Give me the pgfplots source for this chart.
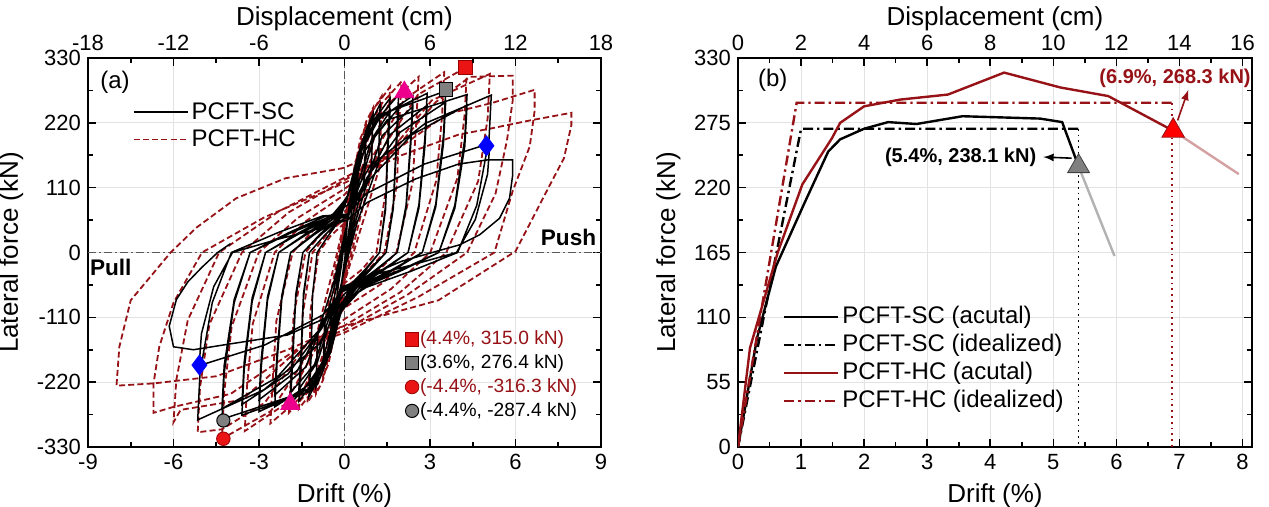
\documentclass[border=0pt]{standalone}
\usepackage{fontspec}
\setmainfont{Liberation Sans}
\usepackage{pgfplots}
\pgfplotsset{compat=1.18}

\definecolor{hcred}{RGB}{150,18,22}
\definecolor{mkred}{RGB}{235,20,20}
\definecolor{mkgray}{RGB}{128,128,128}

\pgfplotsset{
  panel/.style={
    scale only axis, height=194.5pt,
    tick align=inside,
    /pgf/number format/assume math mode=true,
    ticklabel style={font=\fontsize{11}{12}\selectfont},
    label style={font=\fontsize{13}{15}\selectfont},
    axis line style={line width=1pt},
    every tick/.style={black, line width=0.8pt},
    major tick length=4pt, minor tick length=2.5pt,
  },
  linelegend/.style={
    legend image code/.code={\draw[##1] (0pt,0pt) -- (27pt,0pt);},
    legend cell align=left,
    legend style={draw=none, fill=none, font=\fontsize{12}{14}\selectfont,
      row sep=0.8pt, nodes={inner sep=1.5pt}},
  },
  topaxis/.style={axis x line*=top, axis y line=none, xlabel style={yshift=-4.5pt}},
  sc/.style={black, line width=0.75pt},
  hc/.style={hcred, line width=0.9pt, dash pattern=on 3pt off 1.6pt},
}

\begin{document}
\begin{tikzpicture}
\useasboundingbox (-44pt,-30pt) rectangle (590.5pt,223.5pt);

% ---------------- (a) hysteresis ----------------
\begin{axis}[panel, width=256.5pt, at={(0,0)}, anchor=south west,
    xmin=-9, xmax=9, ymin=-330, ymax=330,
    xtick={-9,-6,...,9}, ytick={-330,-220,...,330},
    minor x tick num=1, minor y tick num=1,
    xtick pos=bottom, ytick pos=both,
    grid=major, major grid style={gray!22, line width=0.4pt},
    xlabel={Drift (\%)}, ylabel={Lateral force (kN)},
    linelegend,
    legend style={at={(0.075,0.905)}, anchor=north west},
]
\addlegendimage{sc}
\addlegendentry{PCFT-SC}
\addlegendimage{hc}
\addlegendentry{PCFT-HC}

\draw[gray!70!black, line width=0.5pt, dash pattern=on 4pt off 1.5pt on 1pt off 1.5pt]
  (axis cs:-9,0) -- (axis cs:9,0) (axis cs:0,-330) -- (axis cs:0,330);

% PCFT-HC
\addplot[hc, forget plot] coordinates {
(0,0) (0.12,69) (0.225,104) (0.3,115)
(0.24,63) (0.12,14) (0,-22) (-0.12,-66) (-0.225,-99) (-0.3,-110)
(-0.24,-61) (-0.12,-13) (0,34) (0.2,102) (0.375,153) (0.5,170)
(0.44,94) (0.2,20) (0,-33) (-0.2,-99) (-0.375,-149) (-0.5,-165)
(-0.44,-91) (-0.2,-20) (0,43) (0.3,129) (0.56,194) (0.75,215)
(0.69,118) (0.3,26) (0,-42) (-0.3,-126) (-0.56,-189) (-0.75,-210)
(-0.69,-116) (-0.3,-25) (0,49) (0.4,147) (0.75,221) (1.0,245)
(0.94,135) (0.4,29) (0,-48) (-0.4,-144) (-0.75,-216) (-1.0,-240)
(-0.94,-132) (-0.4,-29) (0,53) (0.52,159) (0.975,239) (1.3,265)
(1.24,146) (0.52,32) (0,-51) (-0.52,-153) (-0.975,-230) (-1.3,-255)
(-1.22,-191) (-1.2,-102) (-0.91,0) (-0.49,28) (0,50) (0.4,141) (0.96,239) (1.6,281)
(1.52,211) (1.47,112) (1.12,0) (0.61,-29) (0,-52) (-0.4,-133) (-0.96,-225) (-1.6,-265)
(-1.52,-199) (-1.47,-106) (-1.12,0) (-0.61,31) (0,57) (0.5,145) (1.2,247) (2.0,290)
(1.92,218) (1.84,116) (1.4,0) (0.76,-33) (0,-60) (-0.49,-136) (-1.17,-231) (-1.95,-272)
(-1.87,-204) (-1.79,-109) (-1.37,0) (-0.74,36) (0,65) (0.65,149) (1.56,253) (2.6,298)
(2.52,224) (2.39,119) (1.82,0) (0.99,-41) (0,-74) (-0.65,-145) (-1.56,-247) (-2.6,-290)
(-2.52,-218) (-2.39,-116) (-1.82,0) (-0.99,43) (0,78) (0.88,153) (2.1,260) (3.5,306)
(3.42,230) (3.22,122) (2.45,0) (1.33,-52) (0,-94) (-0.88,-152) (-2.1,-258) (-3.5,-303)
(-3.42,-227) (-3.22,-121) (-2.45,0) (-1.33,54) (0,98) (1.08,158) (2.58,268) (4.3,315)
(4.22,236) (3.96,126) (3.01,0) (1.63,-62) (0,-113) (-1.08,-158) (-2.58,-269) (-4.3,-316)
(-4.22,-237) (-3.96,-126) (-3.01,0) (-1.63,59) (0,108) (1.28,152) (3.06,258) (5.1,303)
(5.02,227) (4.69,121) (3.57,0) (1.94,-68) (0,-124) (-1.29,-153) (-2.8,-255) (-4.3,-300) (-5.15,-305)
(-5.07,-229) (-4.74,-122) (-3.6,0) (-1.96,68) (0,123) (1.5,160) (3.2,255) (4.4,298) (5.9,300) (5.9,257)
(5.7,190) (5.3,100) (4.3,0) (2.2,-72) (0,-131) (-1.5,-160) (-3.6,-250) (-5.75,-267) (-6.0,-288)
(-5.9,-216) (-5.5,-115) (-4.4,0) (-2.3,70) (0,127) (1.7,170) (3.6,235) (5.2,254) (6.67,276) (6.67,240)
(6.5,180) (5.9,104) (5.26,0) (2.6,-75) (0,-136) (-1.7,-165) (-4.0,-240) (-6.0,-262) (-6.7,-272) (-6.7,-222)
(-6.5,-160) (-6.0,-85) (-5.0,0) (-2.8,60) (0,118) (2.0,165) (4.0,200) (5.2,211) (6.5,224) (7.96,237) (7.96,216)
(7.7,160) (7.2,114) (6.0,2) (3.3,-81) (-0.17,-127) (-2.0,-165) (-4.5,-210) (-6.67,-222) (-8.0,-226)
(-7.9,-160) (-7.5,-81) (-6.1,0) (-5.2,42) (-3.8,92) (-2.07,126) (-0.07,143) (0.8,160)
};

% PCFT-SC
\addplot[sc, forget plot] coordinates {
(0,0) (0.12,60) (0.225,97) (0.3,110)
(0.24,66) (0.105,22) (0,-13) (-0.12,-58) (-0.225,-92) (-0.3,-105)
(-0.24,-63) (-0.105,-21) (0,20) (0.2,91) (0.375,145) (0.5,165)
(0.44,99) (0.175,33) (0,-19) (-0.2,-88) (-0.375,-141) (-0.5,-160)
(-0.44,-96) (-0.175,-32) (0,25) (0.3,113) (0.5625,180) (0.75,205)
(0.69,123) (0.26,41) (0,-24) (-0.3,-110) (-0.56,-176) (-0.75,-200)
(-0.69,-120) (-0.26,-40) (0,28) (0.4,129) (0.75,207) (1.0,235)
(0.94,141) (0.35,47) (0,-27) (-0.4,-125) (-0.75,-201) (-1.0,-228)
(-0.94,-137) (-0.35,-46) (0,30) (0.5,139) (0.94,222) (1.25,252)
(1.19,151) (0.44,50) (0,-29) (-0.5,-135) (-0.94,-216) (-1.25,-245)
(-1.17,-176) (-1.125,-74) (-0.96,0) (-0.56,29) (-0.19,54) (0.1,92) (0.45,157) (0.88,215) (1.6,262)
(1.52,189) (1.44,79) (1.23,0) (0.72,-31) (0.24,-58) (-0.1,-88) (-0.45,-151) (-0.88,-207) (-1.6,-252)
(-1.52,-181) (-1.44,-76) (-1.23,0) (-0.72,28) (-0.24,51) (0.1,60) (0.5,120) (0.95,192) (1.6,240)
(1.52,173) (1.44,72) (1.23,0) (0.72,-29) (0.24,-53) (-0.1,-58) (-0.5,-116) (-0.95,-186) (-1.6,-232)
(-1.52,-167) (-1.44,-70) (-1.23,0) (-0.72,28) (-0.24,51) (0.1,94) (0.45,161) (1.05,220) (1.9,268)
(1.82,193) (1.71,80) (1.46,0) (0.86,-32) (0.29,-59) (-0.1,-90) (-0.45,-154) (-1.05,-211) (-1.9,-257)
(-1.82,-185) (-1.71,-77) (-1.46,0) (-0.86,31) (-0.29,57) (0.1,61) (0.6,123) (1.05,196) (1.9,245)
(1.82,176) (1.71,74) (1.46,0) (0.86,-29) (0.29,-54) (-0.1,-60) (-0.6,-119) (-1.05,-190) (-1.9,-238)
(-1.82,-171) (-1.71,-71) (-1.46,0) (-0.86,29) (-0.29,52) (0.1,93) (0.5,165) (1.2,226) (2.4,266)
(2.32,192) (2.16,80) (1.85,0) (1.08,-32) (0.36,-59) (-0.1,-92) (-0.5,-162) (-1.2,-223) (-2.45,-262)
(-2.37,-189) (-2.2,-79) (-1.89,0) (-1.1,31) (-0.37,58) (0.1,62) (0.8,124) (1.32,198) (2.4,248)
(2.32,179) (2.16,74) (1.85,0) (1.08,-30) (0.36,-55) (-0.1,-61) (-0.8,-121) (-1.35,-194) (-2.45,-242)
(-2.37,-174) (-2.2,-73) (-1.89,0) (-1.1,29) (-0.37,53) (0.1,95) (0.5,167) (1.2,230) (2.9,270)
(2.82,194) (2.61,81) (2.23,0) (1.31,-32) (0.44,-59) (-0.1,-95) (-0.5,-167) (-1.2,-230) (-3.0,-270)
(-2.92,-194) (-2.7,-81) (-2.31,0) (-1.35,32) (-0.45,59) (0.1,63) (0.8,125) (1.6,200) (2.9,250)
(2.82,180) (2.61,75) (2.23,0) (1.31,-30) (0.44,-55) (-0.1,-63) (-0.8,-125) (-1.65,-200) (-3.0,-250)
(-2.92,-180) (-2.7,-75) (-2.31,0) (-1.35,30) (-0.45,55) (0.1,96) (0.5,170) (1.2,233) (3.55,274)
(3.47,197) (3.2,82) (2.73,0) (1.6,-33) (0.53,-60) (-0.1,-97) (-0.5,-171) (-1.2,-235) (-3.6,-276)
(-3.52,-199) (-3.24,-83) (-2.77,0) (-1.62,33) (-0.54,61) (0.1,64) (0.8,128) (1.95,204) (3.55,255)
(3.47,184) (3.2,77) (2.73,0) (1.6,-31) (0.53,-56) (-0.1,-65) (-0.8,-129) (-1.98,-206) (-3.6,-258)
(-3.52,-186) (-3.24,-77) (-2.77,0) (-1.62,31) (-0.54,57) (0.1,94) (0.6,165) (1.5,225) (4.3,268)
(4.22,193) (3.87,80) (3.31,0) (1.94,-32) (0.65,-59) (-0.1,-99) (-0.6,-175) (-1.5,-238) (-4.3,-283)
(-4.22,-204) (-3.87,-85) (-3.31,0) (-1.94,34) (-0.65,62) (0.1,62) (0.9,125) (2.37,200) (4.3,250)
(4.22,180) (3.87,75) (3.31,0) (1.94,-30) (0.65,-55) (-0.1,-66) (-0.9,-132) (-2.37,-212) (-4.3,-265)
(-4.22,-191) (-3.87,-80) (-3.31,0) (-1.94,32) (-0.65,58) (0.1,80) (0.9,147) (2.83,219) (5.15,267)
(5.07,192) (4.64,80) (3.97,0) (2.32,-32) (0.77,-59) (-0.1,-85) (-0.9,-156) (-2.83,-233) (-5.15,-284)
(-5.07,-204) (-4.64,-85) (-3.97,0) (-2.32,34) (-0.77,62) (0.1,65) (0.77,100) (2.8,150) (5.1,185)
(5.02,133) (4.59,56) (3.93,0) (2.3,-22) (0.77,-41) (-0.1,-67) (-0.76,-106) (-2.8,-157) (-5.1,-192)
(-5.02,-138) (-4.59,-58) (-3.93,0) (-2.3,23) (-0.77,42) (0.1,55) (0.8,85) (2.5,125) (4.0,150) (5.0,157) (5.9,157)
(5.9,131) (5.79,92) (5.44,58) (4.74,30) (4.04,13) (3.3,3) (2.0,-15) (0.8,-40) (0,-70) (-0.6,-110)
(-2.0,-140) (-4.0,-155) (-5.3,-165) (-6.0,-160) (-6.15,-125) (-5.9,-80) (-5.5,-50) (-5.0,-25) (-4.45,0) (-4.0,15)
};

\addplot[only marks, forget plot, mark=triangle*, mark size=5.5pt, mark options={fill=magenta, draw=magenta}]
  coordinates {(2.1,272) (-1.9,-257)};
\addplot[only marks, forget plot, mark=diamond*, mark size=5pt, mark options={fill=blue, draw=blue}]
  coordinates {(4.98,181) (-5.09,-191)};

\node[font=\fontsize{12}{14}\selectfont] at (axis cs:-8.05,288) {(a)};
\node[font=\bfseries\fontsize{11.3}{13}\selectfont] at (axis cs:7.86,26) {Push};
\node[font=\bfseries\fontsize{11.3}{13}\selectfont] at (axis cs:-8.2,-25) {Pull};
\end{axis}

% marker legend of (a)
\begin{axis}[panel, width=256.5pt, at={(0,0)}, anchor=south west,
    xmin=-9, xmax=9, ymin=-330, ymax=330, hide axis,
    legend cell align=left,
    legend image code/.code={\draw[mark repeat=2,mark phase=2,#1] plot coordinates {(0pt,0pt) (1pt,0pt) (2pt,0pt)};},
    legend style={draw=none, fill=none, font=\fontsize{9.6}{11}\selectfont,
      at={(0.606,0.318)}, anchor=north west, row sep=0.5pt,
      nodes={inner xsep=0.6pt, inner ysep=1.5pt}},
]
\addplot[only marks, mark=square*, mark size=3.4pt, mark options={fill=mkred, draw=red!60!black, line width=0.4pt}]
  coordinates {(4.25,314)};
\addlegendentry{\textcolor{hcred}{(4.4\%, 315.0 kN)}}
\addplot[only marks, mark=square*, mark size=3.3pt, mark options={fill=mkgray, draw=black, line width=0.5pt}]
  coordinates {(3.55,276.4)};
\addlegendentry{(3.6\%, 276.4 kN)}
\addplot[only marks, mark=*, mark size=3.4pt, mark options={fill=mkred, draw=red!60!black, line width=0.4pt}]
  coordinates {(-4.25,-316)};
\addlegendentry{\textcolor{hcred}{(-4.4\%, -316.3 kN)}}
\addplot[only marks, mark=*, mark size=3.3pt, mark options={fill=mkgray, draw=black, line width=0.5pt}]
  coordinates {(-4.25,-285)};
\addlegendentry{(-4.4\%, -287.4 kN)}
\end{axis}

% top axis of (a)
\begin{axis}[panel, topaxis, width=256.5pt, at={(0,0)}, anchor=south west,
    xmin=-18, xmax=18, ymin=-330, ymax=330,
    xtick={-18,-12,...,18}, minor x tick num=1,
    xlabel={Displacement (cm)},
]
\end{axis}

% ---------------- (b) envelopes ----------------
\begin{axis}[panel, width=257pt, at={(325pt,0)}, anchor=south west,
    xmin=0, xmax=8.15, ymin=0, ymax=330,
    xtick={0,1,...,8}, ytick={0,55,...,330},
    minor x tick num=1, minor y tick num=1,
    xtick pos=bottom, ytick pos=both,
    grid=major, major grid style={gray!22, line width=0.4pt},
    xlabel={Drift (\%)}, ylabel={Lateral force (kN)},
    linelegend,
    legend style={at={(0.075,0.38)}, anchor=north west},
]
\addplot[gray!60, line width=1.2pt, forget plot] coordinates {(5.4,238.1) (5.97,162)};
\addplot[hcred!40, line width=1.2pt, forget plot] coordinates {(6.9,268.3) (7.94,231.5)};
\addplot[black, line width=0.9pt, dotted, forget plot] coordinates {(5.4,270) (5.4,0)};
\addplot[hcred, line width=0.9pt, dotted, forget plot] coordinates {(6.88,292) (6.88,0)};

\addplot[black, line width=1.2pt] coordinates {
(0,0) (0.1,30) (0.3,92) (0.6,153) (1.05,206.5) (1.43,250.6) (1.62,261) (2.0,270)
(2.38,275.6) (2.83,274) (3.56,280.6) (4.79,278.6) (5.14,275.6) (5.4,238.1)};
\addlegendentry{PCFT-SC (acutal)}
\addplot[black, line width=1.2pt, dash pattern=on 5pt off 2pt on 1.2pt off 2pt] coordinates {
(0,0) (1.0,270) (5.4,270)};
\addlegendentry{PCFT-SC (idealized)}
\addplot[hcred, line width=1.2pt] coordinates {
(0,0) (0.19,84) (0.63,165) (1.02,222.7) (1.49,262) (1.62,275) (2.0,289) (2.57,294.7)
(3.33,299) (4.22,317.6) (5.11,305) (5.87,297.7) (6.9,268.3)};
\addlegendentry{PCFT-HC (acutal)}
\addplot[hcred, line width=1.2pt, dash pattern=on 5pt off 2pt on 1.2pt off 2pt] coordinates {
(0,0) (0.93,292) (6.9,292)};
\addlegendentry{PCFT-HC (idealized)}

\addplot[only marks, forget plot, mark=triangle*, mark size=6.3pt, mark options={fill=mkgray, draw=gray!50!black, line width=0.4pt}]
  coordinates {(5.4,238.1)};
\addplot[only marks, forget plot, mark=triangle*, mark size=6.5pt, mark options={fill=red, draw=hcred, line width=0.4pt}]
  coordinates {(6.9,268.3)};

\node[font=\bfseries\fontsize{10}{12}\selectfont] at (axis cs:3.53,246) {(5.4\%, 238.1 kN)};
\draw[-latex, line width=0.8pt] (axis cs:5.29,245) -- (axis cs:4.84,246);
\node[font=\bfseries\fontsize{10}{12}\selectfont, text=hcred] at (axis cs:6.93,313) {(6.9\%, 268.3 kN)};
\draw[-latex, line width=0.8pt, hcred] (axis cs:6.97,277) -- (axis cs:7.14,303);
\node[font=\fontsize{12}{14}\selectfont] at (axis cs:0.55,311) {(b)};
\end{axis}

% top axis of (b)
\begin{axis}[panel, topaxis, width=257pt, at={(325pt,0)}, anchor=south west,
    xmin=0, xmax=16.3, ymin=0, ymax=330,
    xtick={0,2,...,16}, minor x tick num=1,
    xlabel={Displacement (cm)},
]
\end{axis}
\end{tikzpicture}
\end{document}
